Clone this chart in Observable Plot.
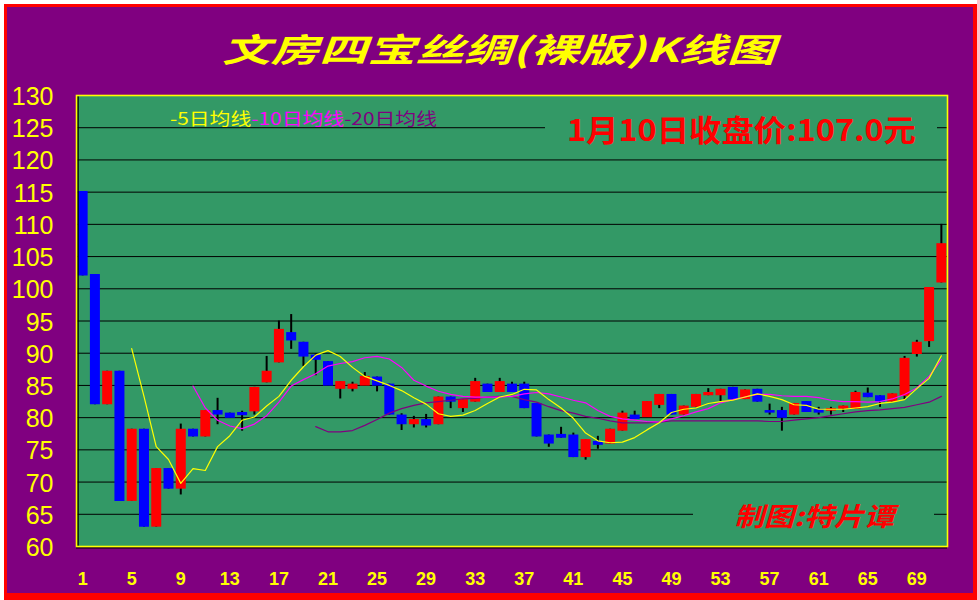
<!DOCTYPE html>
<html><head><meta charset="utf-8">
<script src="https://cdn.jsdelivr.net/npm/d3@7"></script>
<script src="https://cdn.jsdelivr.net/npm/@observablehq/plot@0.6"></script>
<style>
html,body{margin:0;padding:0;background:#ffffff;}
#wrap{position:relative;width:977px;height:600px;overflow:hidden;}
#bg{position:absolute;left:4px;top:4px;width:973px;height:596px;box-sizing:border-box;background:#800080;border-style:solid;border-color:#ff0000;border-width:3px 4px 7px 3px;}
#chart{position:absolute;left:0;top:0;}
.ov{position:absolute;white-space:nowrap;transform-origin:0 0;line-height:1;font-family:"Noto Sans CJK SC","Noto Sans",sans-serif;}
.box{position:absolute;background:#339966;}
#title{color:#ffff00;font-size:33px;font-weight:700;font-style:italic;left:222px;top:32px;}
#legend{font-size:17px;left:170px;top:109px;}
#close{color:#ff0000;font-size:30px;font-weight:700;left:567px;top:113px;}
#mark{color:#ff0000;font-size:26px;font-weight:700;font-style:italic;left:734px;top:502px;}
</style>
</head><body>
<div id="wrap">
  <div id="bg"></div>
  <div id="chart"></div>
  <div class="box" style="left:545px;top:106px;width:392px;height:44px;"></div>
  <div class="box" style="left:693px;top:498px;width:241px;height:35px;"></div>
  <div id="title" class="ov" data-w="553">文房四宝丝绸(裸版)K线图</div>
  <div id="legend" class="ov" data-w="267"><span style="color:#ffff00">-5日均线</span><span style="color:#ff00ff">-10日均线</span><span style="color:#800080">-20日均线</span></div>
  <div id="close" class="ov" data-w="349">1月10日收盘价:107.0元</div>
  <div id="mark" class="ov" data-w="160">制图:特片谭</div>
</div>
<script>
// ---- data ----
const openP = [115.1,102.2,82,87.2,67,78.2,63,72.1,68.9,78.2,
  77,81.1,80.7,80.8,80.9,85.4,88.5,93.2,91.7,89.7,
  88.7,84.4,84.4,84.9,86.3,85.2,80.4,78.9,79.7,78.9,
  83.2,81.4,82.4,85.2,83.9,85.2,85.2,82.2,77.3,77.4,
  77.3,73.8,76.3,75.9,77.9,80.4,80,81.9,83.6,80.4,
  81.6,83.4,83.4,84.7,82.8,84.4,81.1,81.1,80.4,82.5,
  81.3,81.0,81.3,81.3,83.8,83.4,82.4,83.3,89.8,91.8,
  100.9];
const closeP = [102.0,82,87.2,67,78.2,63,72.1,68.9,78.2,77,
  81.1,80.4,79.9,80.3,84.7,87.2,93.7,91.9,89.4,88.9,
  84.9,85.6,85.2,86.4,84.9,80.4,78.9,79.7,78.7,83.2,
  82.4,82.8,85.6,83.9,85.6,83.9,81.4,77.0,75.9,76.8,
  73.8,76.6,75.7,78.2,80.7,79.7,82.5,83.6,80.4,81.8,
  83.6,83.9,84.4,82.8,84.3,82.4,80.7,79.9,82.2,80.8,
  80.7,81.4,81.8,83.9,83.1,82.4,83.7,89.2,91.7,100.2,
  107.0];
const highP = [115.1,102.2,87.2,87.2,78.2,78.2,72.1,72.1,79,78.2,
  81.1,83,80.7,81,84.7,89.5,95,96,91.7,89.9,
  88.7,85.6,85.5,87,86.3,85.2,80.6,80.2,80.5,83.2,
  83.2,82.8,86.1,85.2,86.1,85.5,85.5,82.2,77.3,78.5,
  77.6,76.6,77.1,78.2,81,81,82.5,83.6,83.6,81.8,
  83.6,84.5,84.4,84.7,84.3,84.4,82.1,81.6,82.2,82.5,
  81.6,81.6,81.8,84.1,84.6,83.4,83.7,89.5,92,100.2,
  110];
const lowP = [102,82,82,67,67,63,63,68.9,68,77,
  77,78.9,79.9,77.9,80.4,85.4,88.5,90.6,87.9,86.5,
  84.9,82.9,84.0,84.9,84.0,80.4,78,78.4,78.4,78.9,
  81.4,80.8,82.4,83.9,83.9,83.9,81.4,77,75.4,76.8,
  73.8,73.4,75.1,75.9,77.9,79.7,80,81.4,80.4,80.4,
  81.6,83.4,82.5,82.8,82.8,82.4,80.4,77.9,80.4,80.8,
  80.4,80.4,80.8,81.3,83.1,81.6,82.4,82.8,89.4,90.9,
  100.9];
// 5-day line, from day 5
const ma5 = [90.7,83.3,75.5,73.5,69.8,72.1,71.8,75.5,77.2,79.6,
  80.1,81.8,83.3,85.8,87.9,89.7,90.4,89.5,87.8,86.4,
  85.7,85.0,84.2,83.1,82.1,80.6,80.2,80.4,81.1,82.2,
  83.2,83.6,84.4,84.3,82.8,81.5,79.9,77.6,76.4,76.1,
  76.2,76.9,78.1,79.2,80.8,81.3,81.5,82.2,82.5,82.7,
  83.2,83.7,83.3,82.8,82.0,81.9,81.3,81.3,81.3,81.5,
  81.7,82.2,82.4,82.8,84.5,86.1,89.6];
// 10-day line, from day 10
const ma10 = [84.9,81.5,79.6,78.7,78.3,79.0,80.3,82.4,84.9,85.9,
  86.8,88.0,88.4,88.7,89.3,89.5,89.1,87.8,85.8,84.9,
  84.1,83.6,83.3,83.2,83.2,83.2,83.3,83.7,83.9,83.7,
  83.2,82.7,82.3,81.1,80.2,79.8,79.6,79.4,79.3,79.8,
  80.3,80.9,81.4,82.3,82.8,83.2,83.6,83.6,83.4,83.3,
  83.3,83.1,82.7,82.5,82.5,82.4,82.5,82.9,83.6,84.6,
  86.4,89.0];
// 20-day line, from day 20
const ma20 = [78.6,77.8,77.8,78.0,78.8,79.7,80.7,81.4,81.9,82.3,
  82.5,82.7,82.9,83.0,83.2,83.3,83.3,82.8,82.4,81.7,
  81.1,80.7,80.2,79.9,79.5,79.2,79.2,79.2,79.3,79.5,
  79.5,79.5,79.5,79.5,79.5,79.5,79.5,79.4,79.4,79.6,
  79.8,80.0,80.3,80.6,80.9,81.1,81.2,81.4,81.6,82.0,
  82.4,83.3];
const xTicks = [1,5,9,13,17,21,25,29,33,37,41,45,49,53,57,61,65,69];
const yTicks = [60,65,70,75,80,85,90,95,100,105,110,115,120,125,130];
const gridLevels = [65,70,75,80,85,90,95,100,105,110,115,120,125];

// ---- tables built from the arrays ----
const candles = openP.map((o, k) => ({day: k + 1, open: o, close: closeP[k], high: highP[k], low: lowP[k]}));
const ma5Rows = ma5.map((v, k) => ({day: k + 5, v}));
const ma10Rows = ma10.map((v, k) => ({day: k + 10, v}));
const ma20Rows = ma20.map((v, k) => ({day: k + 20, v}));

const chart = Plot.plot({
  width: 977, height: 600,
  marginLeft: 76, marginRight: 30, marginTop: 95, marginBottom: 54,
  style: {background: "transparent", color: "#ffff00", fontFamily: "'Liberation Sans', Arial, sans-serif", overflow: "visible"},
  x: {domain: [0.5, 71.5]},
  y: {domain: [60, 130]},
  marks: [
    Plot.frame({fill: "#339966"}),
    Plot.ruleY(gridLevels, {stroke: "#000000", strokeWidth: 1}),
    Plot.ruleX(candles, {x: "day", y1: "low", y2: "high", stroke: "#000000", strokeWidth: 2}),
    Plot.ruleX(candles, {x: "day", y1: "open", y2: "close", stroke: d => d.close >= d.open ? "#ff0000" : "#0000ff", strokeWidth: 10}),
    Plot.line(ma20Rows, {x: "day", y: "v", stroke: "#800080", strokeWidth: 1.2}),
    Plot.line(ma10Rows, {x: "day", y: "v", stroke: "#ff00ff", strokeWidth: 1.2}),
    Plot.line(ma5Rows, {x: "day", y: "v", stroke: "#ffff00", strokeWidth: 1.2}),
    Plot.ruleX([0.5], {stroke: "#000000", strokeWidth: 1.5, dx: 1.5}),
    Plot.ruleY([60], {stroke: "#000000", strokeWidth: 1.2, dy: 1.3}),
    Plot.frame({stroke: "#ffff00", strokeWidth: 1.6}),
    Plot.axisY({ticks: yTicks, tickSize: 0, tickPadding: 23, fontSize: 25, fill: "#ffff00", label: null, dy: 1.5}),
    Plot.axisX({ticks: xTicks, tickSize: 0, tickPadding: 26, fontSize: 18, fontWeight: "bold", fill: "#ffff00", label: null})
  ]
});
document.getElementById("chart").appendChild(chart);

function fit() {
  document.querySelectorAll(".ov").forEach(el => {
    el.style.transform = "none";
    const w = el.getBoundingClientRect().width;
    const target = +el.dataset.w;
    if (w > 0) el.style.transform = `scaleX(${target / w})`;
  });
}
fit();
if (document.fonts && document.fonts.ready) document.fonts.ready.then(fit);
</script>
</body></html>
